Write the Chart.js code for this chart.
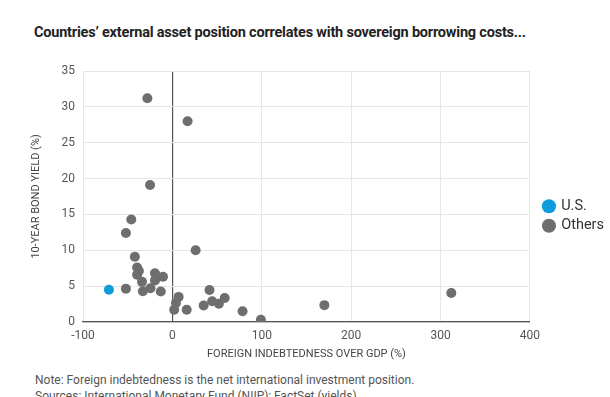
<!DOCTYPE html>
<html>
<head>
<meta charset="utf-8">
<script src="https://cdn.jsdelivr.net/npm/chart.js@4"></script>
<style>
  body { margin: 0; width: 610px; height: 397px; overflow: hidden; background: #fff; font-family: Roboto, sans-serif; }
  #titulo { position: absolute; left: 34px; top: 24px; font-size: 14.5px; font-weight: 700; color: #222; letter-spacing: -0.2px; }
  #grafico { position: absolute; left: 0; top: 55px; width: 610px; height: 310px; }
  .nota { position: absolute; left: 35px; font-size: 12px; color: #555; white-space: nowrap; }
</style>
</head>
<body>
<div id="titulo">Countries’ external asset position correlates with sovereign borrowing costs...</div>
<div id="grafico"><canvas id="c"></canvas></div>
<div class="nota" style="top:373px">Note: Foreign indebtedness is the net international investment position.</div>
<div class="nota" style="top:389px">Sources: International Monetary Fund (NIIP); FactSet (yields)</div>
<script>
// Datos: EE.UU.
const usX = [-71];
const usY = [4.5];

// Datos: otros paises (posicion externa % PIB, rendimiento bono 10 anos %)
const otrosX = [-28, 17, -25, -46, -52, 26, -42, -39.5, -37.5, -39.5, -19.5, -10.5, -19.5, -34, -52, -24.5, -33, -13, 7, 4, 2, 16, 41.5, 44.5, 35, 52, 58.5, 78.5, 99, 170, 312];
const otrosY = [31.2, 28.0, 19.1, 14.3, 12.4, 10.0, 9.1, 7.6, 7.1, 6.6, 6.8, 6.3, 5.8, 5.6, 4.65, 4.7, 4.3, 4.25, 3.5, 2.65, 1.7, 1.7, 4.45, 2.9, 2.3, 2.55, 3.35, 1.5, 0.3, 2.35, 4.05];

const series = ["U.S.", "Others"];

function puntos(xs, ys) {
  return xs.map((x, i) => ({ x: x, y: ys[i] }));
}

// Mueve la leyenda un poco a la derecha despues del layout
const moverLeyenda = {
  id: "moverLeyenda",
  afterLayout(chart) {
    const l = chart.legend;
    l.left += 9; l.right += 9;
    l.top -= 2; l.bottom -= 2;
  }
};

const ctx = document.getElementById("c").getContext("2d");
const chart = new Chart(ctx, {
  type: "scatter",
  data: {
    datasets: [{
      label: series[0],
      data: puntos(usX, usY),
      backgroundColor: "#0d9ddb",
      borderWidth: 0,
      pointRadius: 5
    }, {
      label: series[1],
      data: puntos(otrosX, otrosY),
      backgroundColor: "#6e6e6e",
      borderWidth: 0,
      pointRadius: 5
    }]
  },
  options: {
    responsive: true,
    maintainAspectRatio: false,
    animation: false,
    layout: { padding: { left: 30, right: 5, top: 16, bottom: 0 } },
    plugins: {
      legend: {
        position: "right",
        labels: {
          usePointStyle: true,
          pointStyle: "circle",
          boxWidth: 10,
          boxHeight: 10,
          padding: 5,
          color: "#333",
          font: { family: "Roboto", size: 14.5 }
        }
      },
      tooltip: { enabled: false }
    },
    scales: {
      x: {
        min: -100,
        max: 400,
        ticks: { stepSize: 100, color: "#555", font: { family: "Roboto", size: 12 }, padding: 7 },
        grid: {
          color: (c) => c.tick && c.tick.value === 0 ? "#555" : "#e6e6e6",
          lineWidth: (c) => c.tick && c.tick.value === 0 ? 1.2 : 1,
          drawTicks: false
        },
        border: { color: "#555", width: 1.2 },
        title: { display: true, text: "FOREIGN INDEBTEDNESS OVER GDP (%)", color: "#444", font: { family: "Roboto", size: 11 }, padding: { top: 4 } },
        afterFit: (s) => { s.height = 43; }
      },
      y: {
        min: 0,
        max: 35,
        ticks: { stepSize: 5, color: "#555", font: { family: "Roboto", size: 12 }, padding: 8 },
        grid: { color: "#e6e6e6", drawTicks: false },
        border: { display: false },
        title: { display: true, text: "10-YEAR BOND YIELD (%)", color: "#444", font: { family: "Roboto", size: 11 }, padding: 0 },
        afterFit: (s) => { s.width = 53; }
      }
    }
  },
  plugins: [moverLeyenda]
});

chart.render();
</script>
</body>
</html>
